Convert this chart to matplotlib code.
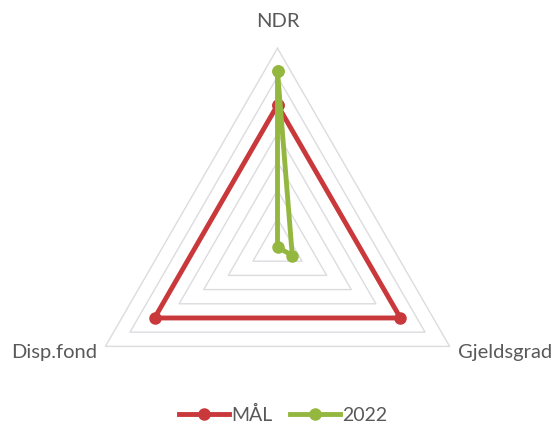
import numpy as np
import matplotlib.pyplot as plt

# Nøkkeltall: målsetting mot resultat 2022
categories = ["NDR", "Gjeldsgrad", "Disp.fond"]
maal = [5.0, 5.0, 5.0]
res_2022 = [6.2, 0.6, 0.0]
n_rings = 7

RED = "#C9383A"
GREEN = "#94B83F"
GRID = "#DCDCE0"
TEXT = "#595959"

plt.rcParams["font.family"] = ["Lato", "DejaVu Sans"]

# axis directions: NDR up, Gjeldsgrad lower right, Disp.fond lower left
angles = np.deg2rad([90, -30, 210])


def to_xy(values):
    vals = np.asarray(values, dtype=float)
    x = vals * np.cos(angles)
    y = vals * np.sin(angles)
    # close the polygon
    return np.append(x, x[0]), np.append(y, y[0])


fig = plt.figure(figsize=(5.54, 4.23), dpi=100)
ax = fig.add_axes([0, 0, 1, 1])
unit = 28.39  # pixels per ring
ax.set_xlim(-277.5 / unit, (554 - 277.5) / unit)
ax.set_ylim(-176 / unit, (423 - 176) / unit)
ax.axis("off")

# triangular grid rings
for r in range(1, n_rings + 1):
    gx, gy = to_xy([r] * 3)
    ax.plot(gx, gy, color=GRID, lw=1.0, zorder=1)

mx, my = to_xy(maal)
l1, = ax.plot(mx, my, color=RED, lw=3.5, marker="o", markersize=8,
              solid_joinstyle="miter", label="MÅL", zorder=3)
gx, gy = to_xy(res_2022)
l2, = ax.plot(gx, gy, color=GREEN, lw=3.5, marker="o", markersize=8,
              label="2022", zorder=4)

# category labels at the outer ring vertices
offsets = [(0, 18, "center", "bottom"), (8, -6, "left", "center"),
           (-8, -6, "right", "center")]
for name, a, (dx, dy, ha, va) in zip(categories, angles, offsets):
    ax.annotate(name, (n_rings * np.cos(a), n_rings * np.sin(a)),
                xytext=(dx * 0.72, dy * 0.72), textcoords="offset points",
                ha=ha, va=va, fontsize=14.5, color=TEXT)

leg = ax.legend(handles=[l1, l2], loc="center", bbox_to_anchor=(0.511, 1 - 415 / 423),
                ncol=2, frameon=False, fontsize=14, handlelength=2.6,
                handletextpad=0.1, columnspacing=0.9, labelcolor=TEXT)

fig.savefig("out.png", dpi=100)
